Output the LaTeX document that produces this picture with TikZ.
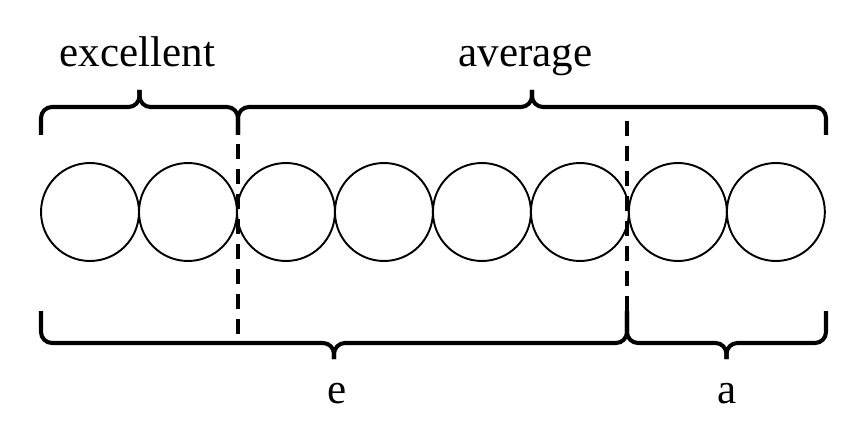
\documentclass[tikz,border=0pt]{standalone}
\usepackage{fontspec}
\setmainfont{Liberation Serif}
\usepackage{tikz}
\usetikzlibrary{shapes.geometric,arrows}
\tikzstyle{ball} = [circle, draw=black, line width=1.1pt, minimum size=1.96cm, inner sep=0pt]
\tikzstyle{brace} = [line width=2.3pt, rounded corners=0.22cm, line cap=butt]
\tikzstyle{split} = [line width=2.2pt, dash pattern=on 0.3cm off 0.2cm]
\tikzstyle{label} = [anchor=base, inner sep=0pt, font=\fontsize{24.5}{28}\selectfont]
% half braces meet at the tip: #1 = end x, #2 = middle x, #3 = end y, #4 = bar y, #5 = tip y
\newcommand{\halfbrace}[5]{\draw[brace] (#1,#3) -- (#1,#4) -- (#2,#4) -- (#2,#5);}

\begin{document}
\begin{tikzpicture}[x=0.02cm, y=-0.02cm, node distance=1.96cm]
	\useasboundingbox (0,0) rectangle (868,442);

	\node (c1) [ball] at (90,212) {};
	\node (c2) [ball, right of=c1] {};
	\node (c3) [ball, right of=c2] {};
	\node (c4) [ball, right of=c3] {};
	\node (c5) [ball, right of=c4] {};
	\node (c6) [ball, right of=c5] {};
	\node (c7) [ball, right of=c6] {};
	\node (c8) [ball, right of=c7] {};

	% top braces
	\halfbrace{41}{139.5}{135}{107}{90}
	\halfbrace{238}{139.5}{135}{107}{90}
	\halfbrace{238}{532}{135}{107}{90}
	\halfbrace{826}{532}{135}{107}{90}

	% bottom braces
	\halfbrace{41}{334}{311}{343}{359}
	\halfbrace{627}{334}{311}{343}{359}
	\halfbrace{627}{726.5}{311}{343}{359}
	\halfbrace{826}{726.5}{311}{343}{359}

	% dashed splits
	\coordinate (s1top) at (238,144);
	\coordinate (s1bot) at (238,334);
	\coordinate (s2top) at (627,121);
	\coordinate (s2bot) at (627,311);
	\draw [split] (s1top) -- (s1bot);
	\draw [split] (s2top) -- (s2bot);

	\node (excellent) [label] at (137.5,67) {excellent};
	\node (average) [label] at (525.5,67) {average};
	\node (e) [label] at (337,403) {e};
	\node (a) [label] at (727,403) {a};
\end{tikzpicture}
\end{document}
